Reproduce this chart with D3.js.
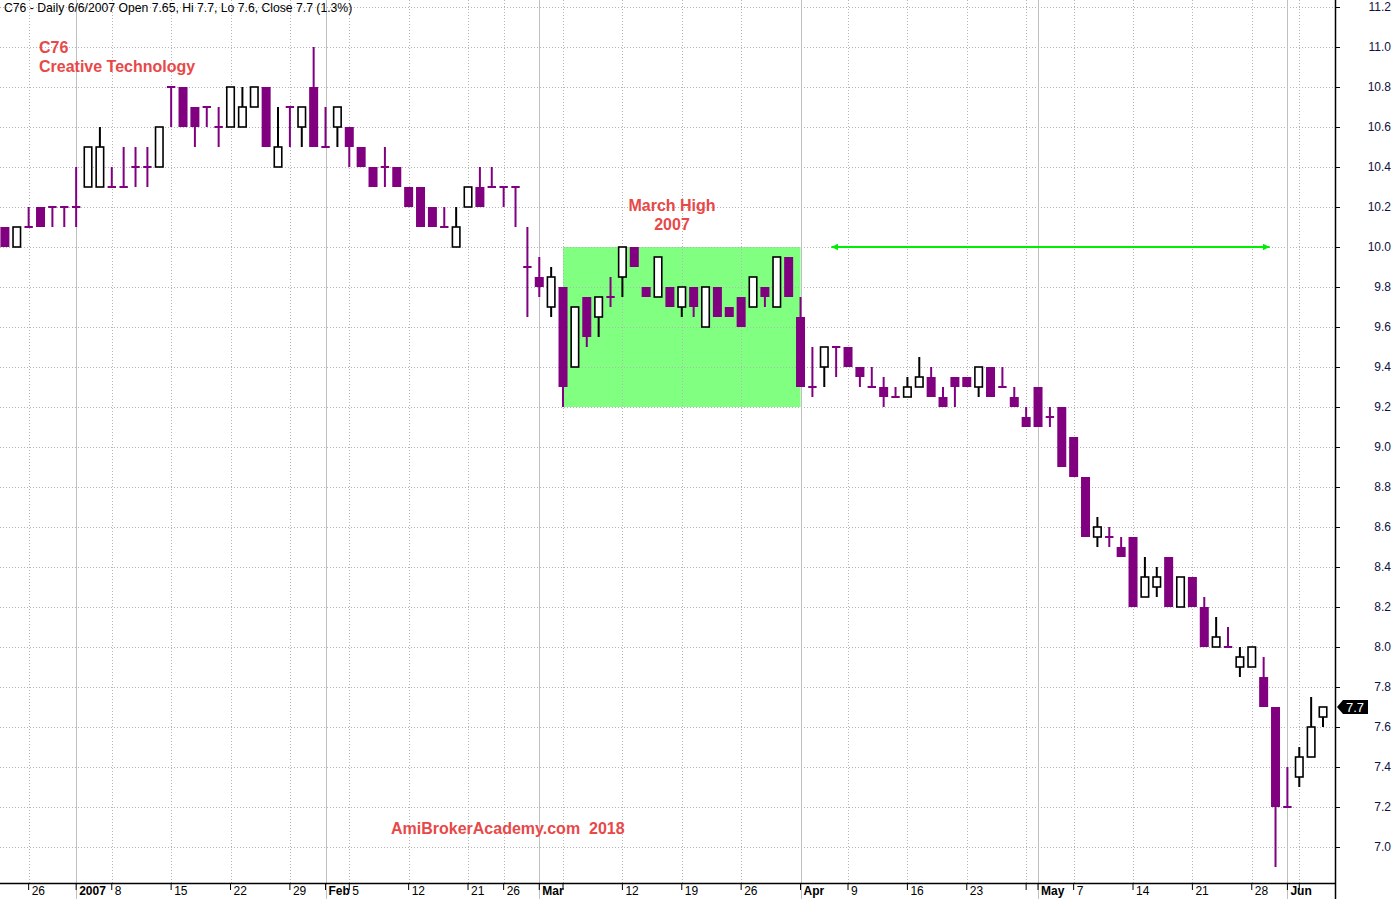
<!DOCTYPE html>
<html><head><meta charset="utf-8">
<script src="https://cdn.jsdelivr.net/npm/d3@7"></script>
<style>
html,body{margin:0;padding:0;background:#fff;}
svg{display:block;font-family:"Liberation Sans",Arial,sans-serif;}
</style></head>
<body>
<svg id="chart" width="1396" height="899"></svg>
<script>
// ---- data (C76 daily, Dec 2006 - Jun 2007) ----
const dates = ["2006-12-21","2006-12-22","2006-12-26","2006-12-27","2006-12-28","2006-12-29",
"2007-01-03","2007-01-04","2007-01-05","2007-01-08","2007-01-09","2007-01-10","2007-01-11","2007-01-12",
"2007-01-15","2007-01-16","2007-01-17","2007-01-18","2007-01-19","2007-01-22","2007-01-23","2007-01-24","2007-01-25","2007-01-26",
"2007-01-29","2007-01-30","2007-01-31","2007-02-01","2007-02-02","2007-02-05","2007-02-06","2007-02-07","2007-02-08","2007-02-09",
"2007-02-12","2007-02-13","2007-02-14","2007-02-15","2007-02-16","2007-02-21","2007-02-22","2007-02-23",
"2007-02-26","2007-02-27","2007-02-28","2007-03-01","2007-03-02","2007-03-05","2007-03-06","2007-03-07","2007-03-08","2007-03-09",
"2007-03-12","2007-03-13","2007-03-14","2007-03-15","2007-03-16","2007-03-19","2007-03-20","2007-03-21","2007-03-22","2007-03-23",
"2007-03-26","2007-03-27","2007-03-28","2007-03-29","2007-03-30","2007-04-02","2007-04-03","2007-04-04","2007-04-05",
"2007-04-09","2007-04-10","2007-04-11","2007-04-12","2007-04-13","2007-04-16","2007-04-17","2007-04-18","2007-04-19","2007-04-20",
"2007-04-23","2007-04-24","2007-04-25","2007-04-26","2007-04-27","2007-04-30","2007-05-02","2007-05-03","2007-05-04",
"2007-05-07","2007-05-08","2007-05-09","2007-05-10","2007-05-11","2007-05-14","2007-05-15","2007-05-16","2007-05-17","2007-05-18",
"2007-05-21","2007-05-22","2007-05-23","2007-05-24","2007-05-25","2007-05-28","2007-05-29","2007-05-30","2007-06-01",
"2007-06-04","2007-06-05","2007-06-06"];

const open  = [10.1,10.0,10.1,10.2,10.2,10.2, 10.2,10.3,10.3,10.3,10.3,10.4,10.4,10.4,
10.8,10.8,10.7,10.7,10.6,10.6,10.6,10.7,10.8,10.4, 10.7,10.6,10.8,10.5,10.6,10.6,10.5,10.4,10.4,10.4,
10.3,10.3,10.2,10.1,10.0,10.2,10.3,10.3, 10.3,10.3,9.9,9.85,9.7,9.8,9.4,9.75,9.65,9.75,
9.85,10.0,9.8,9.75,9.8,9.7,9.8,9.6,9.8,9.7, 9.75,9.7,9.8,9.7,9.95,9.65,9.3,9.4,9.5,
9.5,9.4,9.3,9.3,9.25,9.25,9.3,9.35,9.25,9.35, 9.35,9.3,9.4,9.3,9.25,9.15,9.3,9.15,9.2,
9.05,8.85,8.55,8.55,8.5,8.55,8.25,8.3,8.45,8.2, 8.35,8.2,8.0,8.0,7.9,7.9,7.85,7.7,7.2, 7.35,7.45,7.65];
const high  = [10.1,10.1,10.2,10.2,10.2,10.2, 10.4,10.5,10.6,10.4,10.5,10.5,10.5,10.6,
10.8,10.8,10.7,10.7,10.7,10.8,10.8,10.8,10.8,10.7, 10.7,10.7,11.0,10.7,10.7,10.6,10.5,10.4,10.5,10.4,
10.3,10.3,10.2,10.2,10.2,10.3,10.4,10.4, 10.3,10.3,10.1,9.95,9.9,9.8,9.7,9.75,9.75,9.85,
10.0,10.0,9.8,9.95,9.8,9.8,9.8,9.8,9.8,9.7, 9.75,9.85,9.8,9.95,9.95,9.75,9.5,9.5,9.5,
9.5,9.4,9.4,9.35,9.3,9.35,9.45,9.4,9.3,9.35, 9.35,9.4,9.4,9.4,9.3,9.2,9.3,9.2,9.2,
9.05,8.85,8.65,8.6,8.55,8.55,8.45,8.4,8.45,8.35, 8.35,8.25,8.15,8.1,8.0,8.0,7.95,7.7,7.4, 7.5,7.75,7.7];
const low   = [10.0,10.0,10.1,10.1,10.1,10.1, 10.1,10.3,10.3,10.3,10.3,10.3,10.3,10.4,
10.6,10.6,10.5,10.6,10.5,10.6,10.6,10.7,10.5,10.4, 10.5,10.5,10.5,10.5,10.5,10.4,10.4,10.3,10.3,10.3,
10.2,10.1,10.1,10.1,10.0,10.2,10.2,10.3, 10.2,10.1,9.65,9.75,9.65,9.2,9.4,9.5,9.55,9.7,
9.75,9.9,9.75,9.75,9.7,9.65,9.65,9.6,9.65,9.65, 9.6,9.7,9.7,9.7,9.75,9.3,9.25,9.3,9.35,
9.4,9.3,9.3,9.2,9.25,9.25,9.3,9.25,9.2,9.2, 9.3,9.25,9.25,9.3,9.2,9.1,9.1,9.1,8.9,
8.85,8.55,8.5,8.5,8.45,8.2,8.25,8.25,8.2,8.2, 8.2,8.0,8.0,8.0,7.85,7.9,7.7,6.9,7.2, 7.3,7.45,7.6];
const close = [10.0,10.1,10.1,10.1,10.2,10.2, 10.2,10.5,10.5,10.3,10.3,10.4,10.4,10.6,
10.8,10.6,10.6,10.7,10.6,10.8,10.7,10.8,10.5,10.5, 10.7,10.7,10.5,10.5,10.7,10.5,10.4,10.3,10.4,10.3,
10.2,10.1,10.1,10.1,10.1,10.3,10.2,10.3, 10.3,10.3,9.9,9.8,9.85,9.3,9.7,9.55,9.75,9.75,
10.0,9.9,9.75,9.95,9.7,9.8,9.7,9.8,9.65,9.65, 9.6,9.85,9.75,9.95,9.75,9.3,9.3,9.5,9.5,
9.4,9.35,9.3,9.25,9.25,9.3,9.35,9.25,9.2,9.3, 9.3,9.4,9.25,9.3,9.2,9.1,9.1,9.15,8.9,
8.85,8.55,8.6,8.55,8.45,8.2,8.35,8.35,8.2,8.35, 8.2,8.0,8.05,8.0,7.95,8.0,7.7,7.2,7.2, 7.45,7.6,7.7];

const priceTicks = [7.0,7.2,7.4,7.6,7.8,8.0,8.2,8.4,8.6,8.8,9.0,9.2,9.4,9.6,9.8,10.0,10.2,10.4,10.6,10.8,11.0,11.2];
const tickDates  = ["2006-12-26","2007-01-03","2007-01-08","2007-01-15","2007-01-22","2007-01-29","2007-02-01","2007-02-05",
"2007-02-12","2007-02-21","2007-02-26","2007-03-01","2007-03-12","2007-03-19","2007-03-26","2007-04-02","2007-04-09",
"2007-04-16","2007-04-23","2007-05-02","2007-05-07","2007-05-14","2007-05-21","2007-05-28","2007-06-01"];
const tickLabels = ["26","2007","8","15","22","29","Feb","5","12","21","26","Mar","12","19","26","Apr","9","16","23","May","7","14","21","28","Jun"];
const monthDates = ["2007-01-03","2007-02-01","2007-03-01","2007-04-02","2007-05-02","2007-06-01"];
const weekDates  = ["2006-12-26","2007-01-08","2007-01-15","2007-01-22","2007-01-29","2007-02-05","2007-02-12","2007-02-21",
"2007-02-26","2007-03-05","2007-03-12","2007-03-19","2007-03-26","2007-04-09","2007-04-16","2007-04-23","2007-04-30",
"2007-05-07","2007-05-14","2007-05-21","2007-05-28","2007-06-04"];

// annotations
const boxDates  = ["2007-03-05","2007-04-02"];
const boxPrices = [9.2, 10.0];
const arrowIdx  = [69.6, 106.5];
const arrowPrice = 10.0;
const lastPrice = 7.7;

// ---- layout ----
const W = 1396, H = 899, axisX = 1335, axisY = 883;
const step = 11.875, firstCenter = 4.9;
const svg = d3.select("#chart");

const x = d3.scaleBand().domain(dates)
  .range([firstCenter - step/2, firstCenter - step/2 + step*dates.length]).padding(0);
const xc = d => x(d) + x.bandwidth()/2;
const xi = d3.scaleLinear().domain([0, dates.length-1]).range([xc(dates[0]), xc(dates[dates.length-1])]);
const y = d3.scaleLinear().domain([7.0, 11.2]).range([847, 7]);

// green box (under grid)
svg.append("rect")
  .attr("x", xc(boxDates[0])).attr("y", y(boxPrices[1]))
  .attr("width", xc(boxDates[1]) - xc(boxDates[0]))
  .attr("height", y(boxPrices[0]) - y(boxPrices[1]))
  .attr("fill", "#80ff80");

// grid
const grid = svg.append("g");
grid.selectAll(".hg").data(priceTicks).join("line")
  .attr("x1", 0).attr("x2", axisX).attr("y1", d => y(d)).attr("y2", d => y(d))
  .attr("stroke", "#b4b4b4").attr("stroke-width", 1).attr("stroke-dasharray", "1,2")
  .attr("shape-rendering", "crispEdges");
grid.selectAll(".wg").data(weekDates).join("line")
  .attr("x1", d => Math.round(xc(d)) + 0.5).attr("x2", d => Math.round(xc(d)) + 0.5)
  .attr("y1", 0).attr("y2", axisY)
  .attr("stroke", "#b4b4b4").attr("stroke-width", 1).attr("stroke-dasharray", "1,2");
grid.selectAll(".mg").data(monthDates).join("line")
  .attr("x1", d => Math.round(xc(d)) + 0.5).attr("x2", d => Math.round(xc(d)) + 0.5)
  .attr("y1", 0).attr("y2", H)
  .attr("stroke", "#c0c0c0").attr("stroke-width", 1);

// candles
const purple = "#800080";
const data = dates.map((d, i) => ({d, o: open[i], h: high[i], l: low[i], c: close[i]}));
const cg = svg.append("g");
data.forEach(k => {
  const cx = xc(k.d);
  if (k.c > k.o) {
    cg.append("line").attr("x1", cx).attr("x2", cx).attr("y1", y(k.h)).attr("y2", y(k.l))
      .attr("stroke", "#000").attr("stroke-width", 2);
    cg.append("rect").attr("x", cx - 3.75).attr("width", 7.5)
      .attr("y", y(k.c)).attr("height", y(k.o) - y(k.c))
      .attr("fill", "#fff").attr("stroke", "#000").attr("stroke-width", 1.6);
  } else if (k.c < k.o) {
    cg.append("line").attr("x1", cx).attr("x2", cx).attr("y1", y(k.h)).attr("y2", y(k.l))
      .attr("stroke", purple).attr("stroke-width", 2);
    cg.append("rect").attr("x", cx - 4.5).attr("width", 9)
      .attr("y", y(k.o)).attr("height", y(k.c) - y(k.o))
      .attr("fill", purple);
  } else {
    cg.append("line").attr("x1", cx).attr("x2", cx).attr("y1", y(k.h)).attr("y2", y(k.l))
      .attr("stroke", purple).attr("stroke-width", 2);
    cg.append("line").attr("x1", cx - 4.2).attr("x2", cx + 4.2).attr("y1", y(k.o)).attr("y2", y(k.o))
      .attr("stroke", purple).attr("stroke-width", 2);
  }
});

// green arrow line
const defs = svg.append("defs");
["s","e"].forEach(id => {
  defs.append("marker").attr("id", "ar" + id).attr("viewBox", "0 0 10 10")
    .attr("refX", 10).attr("refY", 5).attr("markerWidth", 3.5).attr("markerHeight", 3.5)
    .attr("orient", id === "s" ? "auto-start-reverse" : "auto")
    .append("path").attr("d", "M0,0 L10,5 L0,10 z").attr("fill", "#00ee00");
});
svg.append("line")
  .attr("x1", xi(arrowIdx[0])).attr("x2", xi(arrowIdx[1]))
  .attr("y1", y(arrowPrice)).attr("y2", y(arrowPrice))
  .attr("stroke", "#00ee00").attr("stroke-width", 2)
  .attr("marker-start", "url(#ars)").attr("marker-end", "url(#are)");

// right axis
const yAxis = d3.axisRight(y).tickValues(priceTicks).tickSize(5).tickFormat(d3.format(".1f"));
const ya = svg.append("g").attr("transform", `translate(${axisX},0)`).call(yAxis);
ya.select(".domain").attr("d", `M0.5,0V${H}`).attr("stroke", "#000").attr("stroke-width", 1.5);
ya.selectAll(".tick line").attr("stroke", "#000");
ya.selectAll(".tick text").attr("x", 56).attr("text-anchor", "end")
  .attr("font-size", 12).attr("fill", "#101040").attr("font-family", "Liberation Sans, Arial, sans-serif");

// bottom axis
const labelMap = new Map(tickDates.map((d, i) => [d, tickLabels[i]]));
const xAxis = d3.axisBottom(x).tickValues(tickDates.concat(["2007-03-05","2007-04-30","2007-06-04"]))
  .tickSize(7).tickFormat(d => labelMap.get(d) || "");
const xa = svg.append("g").attr("transform", `translate(0,${axisY})`).call(xAxis);
xa.select(".domain").attr("d", `M0,0.5H${axisX}`).attr("stroke", "#000").attr("stroke-width", 1.5);
xa.selectAll(".tick line").attr("stroke", "#000");
xa.selectAll(".tick text").attr("x", 3).attr("y", 3).attr("dy", "0.71em").attr("text-anchor", "start")
  .attr("font-size", 12).attr("fill", "#000").attr("font-family", "Liberation Sans, Arial, sans-serif")
  .attr("font-weight", d => monthDates.includes(d) ? "bold" : "normal");

// last price tag
const ly = y(lastPrice);
svg.append("path")
  .attr("d", `M${axisX+2},${ly} L${axisX+8},${ly-7} L${axisX+33},${ly-7} L${axisX+33},${ly+7} L${axisX+8},${ly+7} Z`)
  .attr("fill", "#000");
svg.append("text").attr("x", axisX + 20).attr("y", ly + 4.5).attr("text-anchor", "middle")
  .attr("font-size", 13).attr("fill", "#fff").text(d3.format(".1f")(lastPrice));

// texts
svg.append("text").attr("x", 4).attr("y", 12).attr("font-size", 12.2).attr("fill", "#000")
  .text("C76 - Daily 6/6/2007 Open 7.65, Hi 7.7, Lo 7.6, Close 7.7 (1.3%)");
const red = "#e84848";
const rt = (t, xx, yy, anchor) => svg.append("text").attr("x", xx).attr("y", yy)
  .attr("font-size", 16).attr("font-weight", "bold").attr("fill", red)
  .attr("text-anchor", anchor || "start").text(t);
rt("C76", 39, 52.5);
rt("Creative Technology", 39, 72);
rt("March High", 672, 211, "middle");
rt("2007", 672, 230, "middle");
svg.append("text").attr("x", 391).attr("y", 834).attr("font-size", 16).attr("font-weight", "bold")
  .attr("fill", red).attr("xml:space", "preserve").style("white-space", "pre").text("AmiBrokerAcademy.com  2018");
</script>
</body></html>
